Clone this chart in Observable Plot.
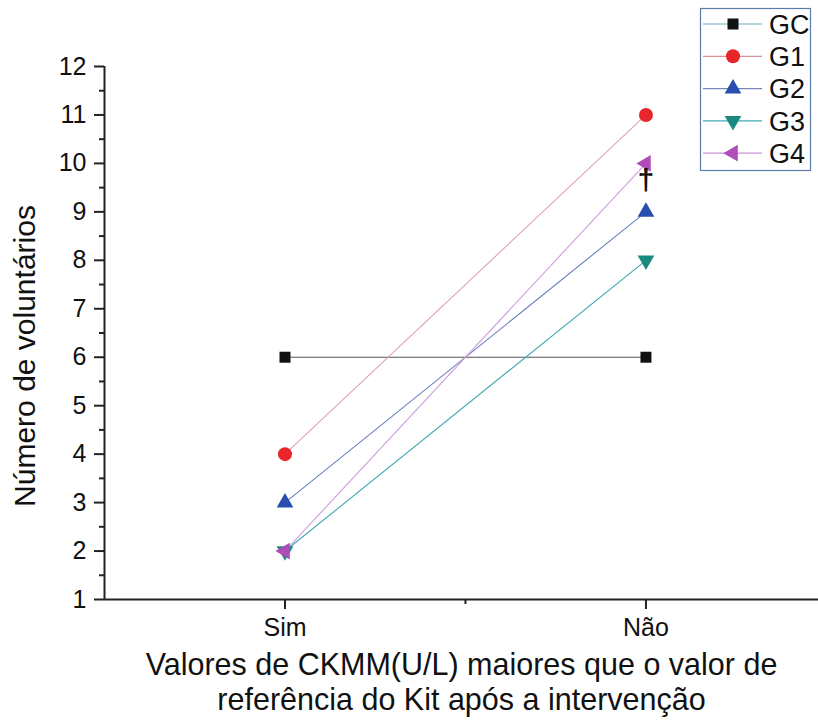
<!DOCTYPE html>
<html><head><meta charset="utf-8">
<script src="https://cdn.jsdelivr.net/npm/d3@7"></script>
<script src="https://cdn.jsdelivr.net/npm/@observablehq/plot@0.6"></script>
<style>
body{margin:0;background:#fff;font-family:"Liberation Sans",Arial,sans-serif;}
#wrap{position:relative;width:818px;height:720px;overflow:hidden;}
#legend{position:absolute;left:0;top:0;}
</style></head><body><div id="wrap"></div>
<script>
const categories = ["Sim", "Não"];
const groups = ["GC", "G1", "G2", "G3", "G4"];
const GC = [6, 6];
const G1 = [4, 11];
const G2 = [3, 9];
const G3 = [2, 8];
const G4 = [2, 10];
const yTicks = [1,2,3,4,5,6,7,8,9,10,11,12];
const yMinorTicks = [1.5,2.5,3.5,4.5,5.5,6.5,7.5,8.5,9.5,10.5,11.5];
const xMinorTicks = [1.5];
const noteText = "†";
const noteValue = 9.65;
const yLabel = "Número de voluntários";
const xLabel = "Valores de CKMM(U/L) maiores que o valor de\nreferência do Kit após a intervenção";

const seriesValues = [GC, G1, G2, G3, G4];
const lineColors = ["#555555", "#e2a4ac", "#6a7fc0", "#3fa9b0", "#cf9ede"];
const legendLineColors = ["#6aaec0", "#d88c94", "#7a84b8", "#45aab2", "#c890d8"];
const markerColors = ["#111111", "#e8262a", "#2a4db0", "#1a8a80", "#b04cb8"];

const sqrt3 = Math.sqrt(3);
const triDown = {draw(ctx, size){const y=-Math.sqrt(size/(sqrt3*3)); ctx.moveTo(0,-2*y); ctx.lineTo(-sqrt3*y, y); ctx.lineTo(sqrt3*y, y); ctx.closePath();}};
const triLeft = {draw(ctx, size){const y=-Math.sqrt(size/(sqrt3*3)); ctx.moveTo(2*y,0); ctx.lineTo(-y, -sqrt3*y); ctx.lineTo(-y, sqrt3*y); ctx.closePath();}};
const symbols = [d3.symbolSquare, d3.symbolCircle, d3.symbolTriangle, triDown, triLeft];
const radii = [6.2, 7, 6.2, 6.2, 6.2];

const rows = groups.flatMap((g, i) => categories.map((c, j) => ({group: g, gi: i, x: j + 1, cat: c, value: seriesValues[i][j]})));

const font = "Liberation Sans, Arial, sans-serif";
const marks = [
  Plot.axisY({ticks: yMinorTicks, tickSize: 5, text: null, label: null, strokeWidth: 2, stroke: "#222"}),
  Plot.axisY({ticks: yTicks, tickSize: 10, tickPadding: 8, fontSize: 25, label: null, strokeWidth: 2, stroke: "#222", fill: "#111"}),
  Plot.axisX({ticks: xMinorTicks, tickSize: 5, text: null, label: null, strokeWidth: 2, stroke: "#222"}),
  Plot.axisX({ticks: [1, 2], tickFormat: d => categories[d - 1], tickSize: 10, tickPadding: 9, fontSize: 25, label: null, strokeWidth: 2, stroke: "#222", fill: "#111"}),
  Plot.ruleX([0.5], {stroke: "#222", strokeWidth: 2}),
  Plot.ruleY([1], {stroke: "#222", strokeWidth: 2}),
];
groups.forEach((g, i) => {
  marks.push(Plot.line(rows.filter(d => d.group === g), {x: "x", y: "value", stroke: lineColors[i], strokeWidth: 1.1}));
});
groups.forEach((g, i) => {
  marks.push(Plot.dot(rows.filter(d => d.group === g), {x: "x", y: "value", symbol: symbols[i], r: radii[i], fill: markerColors[i], stroke: "none"}));
});
marks.push(Plot.text([noteText], {x: 2, y: noteValue, text: d => d, fontSize: 30, fontWeight: "bold", fill: "#111"}));
marks.push(Plot.text([yLabel], {frameAnchor: "left", textAnchor: "middle", rotate: -90, dx: -79, dy: 23, fontSize: 30, fill: "#111"}));
marks.push(Plot.text([xLabel], {frameAnchor: "bottom", lineAnchor: "top", dy: 51, fontSize: 30.5, lineHeight: 1.15, fill: "#111"}));

const chart = Plot.plot({
  width: 818, height: 720,
  marginLeft: 104, marginRight: 0, marginTop: 66, marginBottom: 121,
  style: {fontFamily: font, background: "#fff", color: "#111"},
  x: {domain: [0.5, 2.478]},
  y: {domain: [1, 12]},
  marks
});
document.getElementById("wrap").appendChild(chart);

// legend
const lg = d3.select("#wrap").append("svg").attr("id", "legend").attr("width", 818).attr("height", 200);
lg.append("rect").attr("x", 700.5).attr("y", 8.5).attr("width", 110).attr("height", 162).attr("fill", "#fff").attr("stroke", "#5a7ca8").attr("stroke-width", 1.2);
groups.forEach((g, i) => {
  const cy = 24 + i * 32.3;
  lg.append("line").attr("x1", 703).attr("x2", 762).attr("y1", cy).attr("y2", cy).attr("stroke", legendLineColors[i]).attr("stroke-width", 1.2);
  lg.append("path").attr("transform", `translate(733,${cy})`).attr("d", d3.symbol(symbols[i], Math.PI * radii[i] * radii[i])()).attr("fill", markerColors[i]);
  lg.append("text").attr("x", 769).attr("y", cy).attr("dy", "0.36em").attr("font-size", 27).attr("fill", "#111").attr("font-family", font).text(g);
});
</script></body></html>
